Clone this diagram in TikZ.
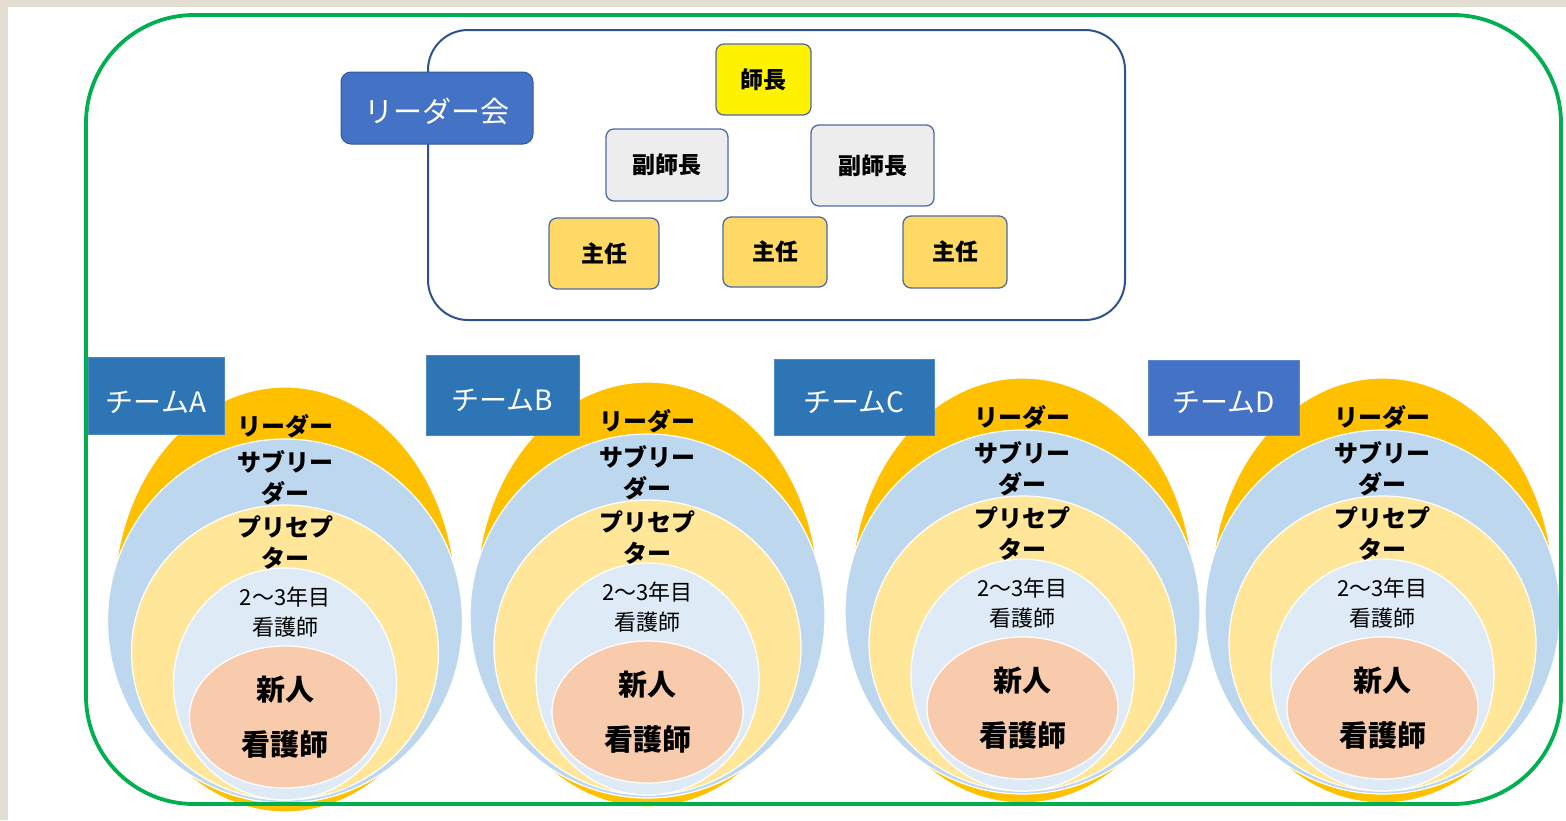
\documentclass[tikz,border=0pt]{standalone}
\usepackage{fontspec}
\setmainfont{Noto Sans CJK JP}
\usetikzlibrary{shapes.geometric}
\definecolor{cOr}{HTML}{FFC000}
\definecolor{cBl}{HTML}{BDD7EE}
\definecolor{cYe}{HTML}{FFE699}
\definecolor{cPa}{HTML}{DEEBF7}
\definecolor{cPe}{HTML}{F8CBAD}
\definecolor{cTeam}{HTML}{2E75B6}
\definecolor{cTeamD}{HTML}{4472C4}
\definecolor{cEdge}{HTML}{2F528F}
\definecolor{cGreen}{HTML}{00B050}
\definecolor{cBeige}{HTML}{E4DDD1}
\definecolor{cGray}{HTML}{EDEDED}
\definecolor{cGold}{HTML}{FFD966}
\newcommand\teamrings[3]{% #1 prefix, #2 centre x, #3 vertical shift
  \node[ell, fill=cOr, minimum width=342pt, minimum height=425pt] (#1o) at ({#2},{599.5+#3}) {};
  \node[ell, fill=cBl, minimum width=355pt, minimum height=364pt] (#1b) at ({#2},{621+#3}) {};
  \node[ell, fill=cYe, minimum width=307pt, minimum height=295pt] (#1y) at ({#2},{652.5+#3}) {};
  \node[ell, fill=cPa, minimum width=223pt, minimum height=232pt] (#1p) at ({#2},{684+#3}) {};
  \node[ell, fill=cPe, minimum width=191pt, minimum height=142pt] (#1n) at ({#2},{717+#3}) {};
  \node[lbl] (#1t1) at ({#2},{426+#3}) {リーダー};
  \node[lbl] (#1t2) at ({#2},{477.5+#3}) {サブリー\\ダー};
  \node[lbl] (#1t3) at ({#2},{542.5+#3}) {プリセプ\\ター};
  \node[lbl, font=\fontsize{22}{30}\selectfont] (#1t4) at ({#2},{612+#3}) {2〜3年目\\看護師};
  \node[lbl, font=\fontsize{29}{55}\selectfont\bfseries] (#1t5) at ({#2},{717.5+#3}) {新人\\看護師};
}
\newcommand\lowtext[2]{\raisebox{#1}[0pt][0pt]{#2}}
\begin{document}
\begin{tikzpicture}[x=1pt,y=-1pt,
  ell/.style={ellipse, draw=white, line width=1.2pt, inner sep=0pt},
  lbl/.style={font=\fontsize{24}{31}\selectfont\bfseries, align=center, inner sep=0pt, text=black},
  teambox/.style={rectangle, fill=cTeam, draw=cTeam!85!white, line width=0.8pt, inner sep=0pt,
    text=white, font=\fontsize{28}{28}\selectfont},
  rolebox/.style={rectangle, rounded corners=8pt, draw=cEdge!85!white, line width=1.3pt, inner sep=0pt,
    text=black, font=\fontsize{23}{23}\selectfont\bfseries}
]
\useasboundingbox (0,0) rectangle (1566,820);
\fill[white] (0,0) rectangle (1566,820);
\fill[cBeige] (0,0) rectangle (1566,7);
\fill[cBeige] (0,0) rectangle (8,820);

% team rings
\teamrings{A}{285}{0}
\teamrings{B}{647.5}{-5}
\teamrings{C}{1022.5}{-9}
\teamrings{D}{1382.5}{-9}

% outer green frame
\node[rectangle, draw=cGreen, line width=3.8pt, rounded corners=108pt, inner sep=0pt,
  minimum width=1475pt, minimum height=789pt] (frame) at (823.5,409.5) {};

% leader meeting group
\node[rectangle, draw=cEdge, line width=2pt, rounded corners=40pt, inner sep=0pt,
  minimum width=697pt, minimum height=290pt] (group) at (776.5,175) {};
\node[rectangle, rounded corners=10pt, fill=cTeamD, draw=cEdge!80!cTeamD, line width=1pt,
  minimum width=192pt, minimum height=72pt, inner sep=0pt, text=white,
  font=\fontsize{29}{29}\selectfont] (lm) at (437,108) {\lowtext{-14pt}{リーダー会}};

\node[rolebox, fill=yellow, minimum width=95pt, minimum height=71pt] (chief) at (763.5,79.5) {師長};
\node[rolebox, fill=cGray, minimum width=122pt, minimum height=72pt] (dep1) at (667,165) {副師長};
\node[rolebox, fill=cGray, minimum width=123pt, minimum height=81pt] (dep2) at (872.5,165.5) {副師長};
\node[rolebox, fill=cGold, minimum width=110pt, minimum height=71pt] (sup1) at (604,253.5) {主任};
\node[rolebox, fill=cGold, minimum width=104pt, minimum height=70pt] (sup2) at (775,252) {主任};
\node[rolebox, fill=cGold, minimum width=104pt, minimum height=72pt] (sup3) at (955,252) {主任};

% team labels
\node[teambox, minimum width=136pt, minimum height=77pt] (tA) at (156,396) {\lowtext{-16pt}{チームA}};
\node[teambox, minimum width=153pt, minimum height=80pt] (tB) at (502.5,395) {\lowtext{-15pt}{チームB}};
\node[teambox, minimum width=160pt, minimum height=76pt] (tC) at (854,397) {\lowtext{-15pt}{チームC}};
\node[teambox, fill=cTeamD, draw=cTeamD!85!white, minimum width=151pt, minimum height=75pt] (tD) at (1223.5,397.5) {\lowtext{-15pt}{チームD}};
\end{tikzpicture}
\end{document}
